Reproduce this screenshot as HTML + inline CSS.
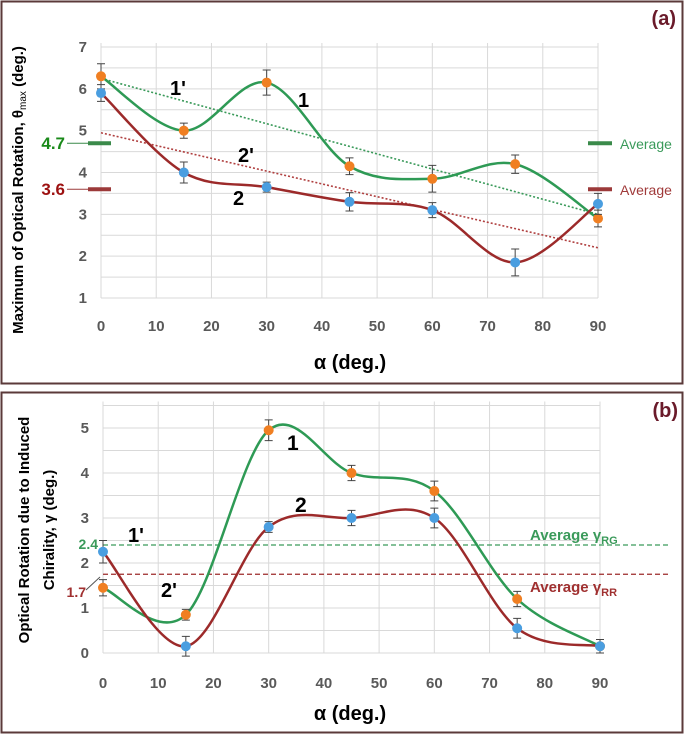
<!DOCTYPE html>
<html><head><meta charset="utf-8"><style>
body{margin:0;background:#fff;}
svg{display:block;font-family:"Liberation Sans",sans-serif;}
</style></head><body>
<svg id="chart" width="685" height="735" xmlns="http://www.w3.org/2000/svg">
<rect x="1.5" y="1.5" width="681" height="382" fill="#fff" stroke="#5b3a3a" stroke-width="2"/>
<rect x="1.5" y="392.5" width="681" height="340" fill="#fff" stroke="#5b3a3a" stroke-width="2"/>
<g id="ga"></g>
<g id="gb"></g>
</svg>
<script>
const xCats=[0,15,30,45,60,75,90];
const xTicks=[0,10,20,30,40,50,60,70,80,90];
const aTicks=[1,2,3,4,5,6,7];
const aSeries1=[6.3,5.0,6.15,4.15,3.85,4.2,2.9];
const aSeries2=[5.9,4.0,3.65,3.3,3.1,1.85,3.25];
const aErr1=[0.3,0.18,0.3,0.2,0.32,0.22,0.2];
const aErr2=[0.2,0.25,0.12,0.22,0.18,0.32,0.25];
const aTrend1=[6.25,3.0];
const aTrend2=[4.95,2.2];
const aAvg=[4.7,3.6];
const bTicks=[0,1,2,3,4,5];
const bSeries1=[1.45,0.85,4.95,4.0,3.6,1.2,0.15];
const bSeries2=[2.25,0.15,2.8,3.0,3.0,0.55,0.15];
const bErr1=[0.18,0.12,0.23,0.17,0.22,0.17,0.15];
const bErr2=[0.25,0.22,0.12,0.17,0.22,0.22,0.15];
const bAvg=[2.4,1.75];

const NS="http://www.w3.org/2000/svg";
function el(p,t,a){const e=document.createElementNS(NS,t);for(const k in a)e.setAttribute(k,a[k]);p.appendChild(e);return e;}
function spline(pts){let d=`M${pts[0][0]},${pts[0][1]}`;for(let i=0;i<pts.length-1;i++){const p0=pts[i-1]||pts[i],p1=pts[i],p2=pts[i+1],p3=pts[i+2]||p2;const t=1/6;
const c1=[p1[0]+(p2[0]-p0[0])*t,p1[1]+(p2[1]-p0[1])*t];const c2=[p2[0]-(p3[0]-p1[0])*t,p2[1]-(p3[1]-p1[1])*t];
d+=` C${c1[0]},${c1[1]} ${c2[0]},${c2[1]} ${p2[0]},${p2[1]}`;}return d;}

function panel(g,cfg){
 const X=v=>cfg.x0+(v/90)*(cfg.x1-cfg.x0);
 const Y=v=>cfg.yBase-(v-cfg.ymin)*cfg.k;
 for(let v=cfg.ymin;v<=cfg.ymax+0.001;v+=0.5){const l=el(g,'line',{x1:X(0),x2:X(90),y1:Y(v),y2:Y(v),stroke:'#d9d9d9','stroke-width':1});
 }
 xTicks.forEach(v=>{const l=el(g,'line',{x1:X(v),x2:X(v),y1:Y(cfg.ymin),y2:Y(cfg.ymax)-4,stroke:'#d9d9d9','stroke-width':1});
 
 const t=el(g,'text',{x:X(v),y:cfg.xtickY,'text-anchor':'middle','font-size':15,'font-weight':'bold',fill:'#595959'});t.textContent=v;
 });
 cfg.ticks.forEach(v=>{const t=el(g,'text',{x:cfg.x0-14,y:Y(v)+5,'text-anchor':'end','font-size':15,'font-weight':'bold',fill:'#595959'});t.textContent=v;
 });
 return {X,Y};
}
function series(g,X,Y,vals,errs,lc,mc,name){
 const pts=xCats.map((c,i)=>[X(c),Y(vals[i])]);
 const p=el(g,'path',{d:spline(pts),fill:'none',stroke:lc,'stroke-width':2.5});
 
 xCats.forEach((c,i)=>{const x=X(c),y1=Y(vals[i]+errs[i]),y2=Y(vals[i]-errs[i]);
  const e=el(g,'path',{d:`M${x},${y1}V${y2}M${x-4},${y1}H${x+4}M${x-4},${y2}H${x+4}`,stroke:'#444','stroke-width':1,fill:'none'});
  
  const m=el(g,'circle',{cx:x,cy:Y(vals[i]),r:5,fill:mc});
  });
}
function txt(g,x,y,s,a,name){const t=el(g,'text',Object.assign({x:x,y:y},a));t.textContent=s;return t;}

// Panel A
const ga=document.getElementById('ga');
const A=panel(ga,{x0:101,x1:598,yBase:298,ymin:1,ymax:7,k:41.83,ticks:aTicks,xtickY:331});
let l=el(ga,'line',{x1:A.X(0),y1:A.Y(aTrend1[0]),x2:A.X(90),y2:A.Y(aTrend1[1]),stroke:'#3a9a5a','stroke-width':1.6,'stroke-dasharray':'2 2'});

l=el(ga,'line',{x1:A.X(0),y1:A.Y(aTrend2[0]),x2:A.X(90),y2:A.Y(aTrend2[1]),stroke:'#b04040','stroke-width':1.6,'stroke-dasharray':'2 2'});

series(ga,A.X,A.Y,aSeries1,aErr1,'#2e9a55','#f07f22','series-1');
series(ga,A.X,A.Y,aSeries2,aErr2,'#9c2a2a','#4a9ee0','series-2');
[[aAvg[0],'#3a8a4a','#1a8a1a'],[aAvg[1],'#9c3a3a','#9c1010']].forEach((a,i)=>{const y=A.Y(a[0]);
 let m=el(ga,'line',{x1:67,x2:88,y1:y,y2:y,stroke:a[1],'stroke-width':1});
 m=el(ga,'line',{x1:88,x2:111,y1:y,y2:y,stroke:a[1],'stroke-width':4});
 m=el(ga,'line',{x1:588,x2:612,y1:y,y2:y,stroke:a[1],'stroke-width':4});
 txt(ga,65,y+6,a[0].toFixed(1),{'text-anchor':'end','font-size':17,'font-weight':'bold',fill:a[2]},'average-value-label');
 txt(ga,620,y+6,'Average',{'font-size':14,fill:i?'#a03a3a':'#3a9a5a'},'average-label');});
txt(ga,170,95,"1'",{'font-size':20,'font-weight':'bold'},'label-1prime');
txt(ga,298,107,"1",{'font-size':20,'font-weight':'bold'},'label-1');
txt(ga,238,162,"2'",{'font-size':20,'font-weight':'bold'},'label-2prime');
txt(ga,233,205,"2",{'font-size':20,'font-weight':'bold'},'label-2');
txt(ga,676,25,"(a)",{'text-anchor':'end','font-size':20,'font-weight':'bold',fill:'#6a1a2a'},'panel-a-label');
txt(ga,350,369,"α (deg.)",{'text-anchor':'middle','font-size':20,'font-weight':'bold'},'x-axis-title-a');
let t=txt(ga,0,0,"",{'text-anchor':'middle','font-size':15,'font-weight':'bold',transform:'translate(23,190) rotate(-90)'},'y-axis-title-a');
t.innerHTML='Maximum of Optical Rotation, θ<tspan font-size="10" font-weight="normal" dy="3">max</tspan><tspan dy="-3"> (deg.)</tspan>';

// Panel B
const gb=document.getElementById('gb');
const B=panel(gb,{x0:103,x1:600,yBase:653,ymin:0,ymax:5.5,k:45,ticks:bTicks,xtickY:688});
[[bAvg[0],'#3a9a5a'],[bAvg[1],'#9c2a2a']].forEach(a=>{const m=el(gb,'line',{x1:B.X(0),x2:668,y1:B.Y(a[0]),y2:B.Y(a[0]),stroke:a[1],'stroke-width':1.2,'stroke-dasharray':'5 3'});
 });
series(gb,B.X,B.Y,bSeries1,bErr1,'#2e9a55','#f07f22','series-1');
series(gb,B.X,B.Y,bSeries2,bErr2,'#9c2a2a','#4a9ee0','series-2');
txt(gb,98,549,"2.4",{'text-anchor':'end','font-size':14,'font-weight':'bold',fill:'#3a9a5a'},'average-rg-value');
txt(gb,86,597,"1.7",{'text-anchor':'end','font-size':14,'font-weight':'bold',fill:'#a03030'},'average-rr-value');
l=el(gb,'line',{x1:86,y1:590,x2:100,y2:577,stroke:'#555','stroke-width':1});
t=txt(gb,530,540,"",{'font-size':15,'font-weight':'bold',fill:'#3a9a5a'},'average-rg-label');t.innerHTML='Average γ<tspan font-size="11" dy="4">RG</tspan>';
t=txt(gb,530,592,"",{'font-size':15,'font-weight':'bold',fill:'#a03030'},'average-rr-label');t.innerHTML='Average γ<tspan font-size="11" dy="4">RR</tspan>';
txt(gb,128,542,"1'",{'font-size':20,'font-weight':'bold'},'label-1prime-b');
txt(gb,287,450,"1",{'font-size':21,'font-weight':'bold'},'label-1-b');
txt(gb,161,597,"2'",{'font-size':20,'font-weight':'bold'},'label-2prime-b');
txt(gb,295,512,"2",{'font-size':21,'font-weight':'bold'},'label-2-b');
txt(gb,678,417,"(b)",{'text-anchor':'end','font-size':20,'font-weight':'bold',fill:'#6a1a2a'},'panel-b-label');
txt(gb,350,720,"α (deg.)",{'text-anchor':'middle','font-size':20,'font-weight':'bold'},'x-axis-title-b');
txt(gb,0,0,"Optical Rotation due to Induced",{'text-anchor':'middle','font-size':15,'font-weight':'bold',transform:'translate(29,530) rotate(-90)'},'y-axis-title-b-line1');
txt(gb,0,0,"Chirality, γ (deg.)",{'text-anchor':'middle','font-size':15,'font-weight':'bold',transform:'translate(54,530) rotate(-90)'},'y-axis-title-b-line2');
</script>
</body></html>
